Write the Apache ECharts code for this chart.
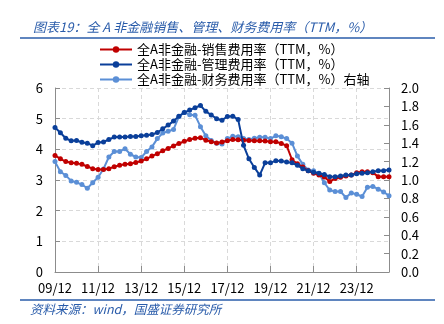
<!DOCTYPE html>
<html><head><meta charset="utf-8">
<script src="https://cdn.jsdelivr.net/npm/echarts@6/dist/echarts.min.js"></script>
<style>html,body{margin:0;padding:0;background:#fff}#c{width:444px;height:324px}</style>
</head><body><div id="c"></div>
<script>
var categories = ["09/12","10/03","10/06","10/09","10/12","11/03","11/06","11/09","11/12","12/03","12/06","12/09","12/12","13/03","13/06","13/09","13/12","14/03","14/06","14/09","14/12","15/03","15/06","15/09","15/12","16/03","16/06","16/09","16/12","17/03","17/06","17/09","17/12","18/03","18/06","18/09","18/12","19/03","19/06","19/09","19/12","20/03","20/06","20/09","20/12","21/03","21/06","21/09","21/12","22/03","22/06","22/09","22/12","23/03","23/06","23/09","23/12","24/03","24/06","24/09","24/12","25/03","25/06"];
var salesRate = [3.80,3.69,3.60,3.56,3.55,3.51,3.44,3.37,3.34,3.34,3.37,3.43,3.48,3.51,3.53,3.57,3.62,3.69,3.78,3.86,3.95,4.03,4.11,4.19,4.26,4.32,4.36,4.38,4.30,4.25,4.21,4.24,4.28,4.32,4.31,4.30,4.29,4.28,4.28,4.27,4.25,4.25,4.19,4.12,3.66,3.53,3.42,3.30,3.22,3.16,3.10,2.95,3.05,3.09,3.13,3.16,3.24,3.27,3.27,3.24,3.11,3.11,3.11];
var mgmtRate = [4.71,4.54,4.36,4.28,4.29,4.23,4.20,4.12,4.22,4.24,4.32,4.40,4.40,4.40,4.42,4.42,4.44,4.46,4.48,4.55,4.67,4.79,4.92,5.08,5.20,5.28,5.36,5.43,5.24,5.12,5.00,4.95,5.07,5.08,4.97,4.13,3.69,3.41,3.16,3.56,3.56,3.63,3.62,3.59,3.56,3.48,3.37,3.30,3.25,3.22,3.18,3.11,3.11,3.13,3.16,3.16,3.20,3.22,3.24,3.27,3.30,3.30,3.33];
var finRate = [1.20,1.09,1.05,0.99,0.975,0.95,0.91,0.97,1.03,1.12,1.25,1.31,1.31,1.34,1.28,1.25,1.245,1.31,1.36,1.45,1.51,1.53,1.55,1.69,1.735,1.71,1.705,1.58,1.48,1.43,1.40,1.39,1.45,1.475,1.47,1.45,1.44,1.455,1.465,1.465,1.45,1.48,1.47,1.45,1.40,1.26,1.17,1.11,1.10,1.07,0.97,0.89,0.875,0.875,0.81,0.86,0.845,0.82,0.92,0.93,0.90,0.87,0.83];
var seriesNames = ["全A非金融-销售费用率（TTM，%）","全A非金融-管理费用率（TTM，%）","全A非金融-财务费用率（TTM，%）右轴"];
var titleText = "图表19：全 A 非金融销售、管理、财务费用率（TTM，%）";
var sourceText = "资料来源：wind，国盛证券研究所";

var FONT = "'Noto Sans CJK SC', sans-serif";
var chart = echarts.init(document.getElementById('c'), null, {renderer:'canvas'});
var axisLineStyle = {color:'#8c8c8c', width:1};
var gridLine = {show:true, lineStyle:{color:'#d9d9d9', type:[4,3], width:1}};
function mk(name, data, color, yIdx, z){
  return {name:name, type:'line', data:data, yAxisIndex:yIdx, z:z,
    symbol:'circle', symbolSize:5, showSymbol:true, showAllSymbol:true,
    lineStyle:{color:color, width:2}, itemStyle:{color:color}, animation:false};
}
chart.setOption({
  animation:false,
  textStyle:{fontFamily:FONT},
  title:{text:titleText, left:28, top:16, textStyle:{fontFamily:FONT, fontSize:13, fontStyle:'italic', fontWeight:'normal', color:'#2a5caa'}},
  legend:{orient:'vertical', left:94, top:38, itemGap:2, itemWidth:32, itemHeight:8,
    textStyle:{fontFamily:FONT, fontSize:13, color:'#000'}, data:seriesNames},
  grid:{left:55, right:55, top:88, bottom:52, containLabel:false},
  xAxis:{type:'category', data:categories, boundaryGap:false,
    axisLine:{lineStyle:axisLineStyle},
    axisTick:{inside:true, length:6, interval:7, lineStyle:axisLineStyle},
    axisLabel:{interval:7, fontFamily:FONT, fontSize:13, color:'#000', margin:10},
    splitLine:{show:true, interval:7, lineStyle:{color:'#d9d9d9', type:[4,3]}}},
  yAxis:[
    {type:'value', min:0, max:6, interval:1, position:'left',
     axisLine:{show:true, lineStyle:axisLineStyle},
     axisTick:{show:true, inside:true, length:5, lineStyle:axisLineStyle},
     axisLabel:{fontFamily:FONT, fontSize:13, color:'#000', margin:12},
     splitLine:gridLine},
    {type:'value', min:0, max:2, interval:0.2, position:'right',
     axisLine:{show:true, lineStyle:axisLineStyle},
     axisTick:{show:true, inside:true, length:5, lineStyle:axisLineStyle},
     axisLabel:{fontFamily:FONT, fontSize:13, color:'#000', margin:12, formatter:function(v){return v.toFixed(1);}},
     splitLine:{show:false}}
  ],
  series:[
    mk(seriesNames[0], salesRate, '#c00000', 0, 3),
    mk(seriesNames[1], mgmtRate, '#0a3f9a', 0, 4),
    mk(seriesNames[2], finRate, '#5b8fd6', 1, 2)
  ],
  graphic:[
    {type:'line', shape:{x1:20,y1:38,x2:435,y2:38}, style:{stroke:'#2a5caa', lineWidth:1.5}},
    {type:'line', shape:{x1:20,y1:300,x2:435,y2:300}, style:{stroke:'#2a5caa', lineWidth:1.5}},
    {type:'text', left:30, top:303, style:{text:sourceText, fontFamily:FONT, fontSize:12.5, fontStyle:'italic', fill:'#2a5caa'}}
  ]
});
</script></body></html>
